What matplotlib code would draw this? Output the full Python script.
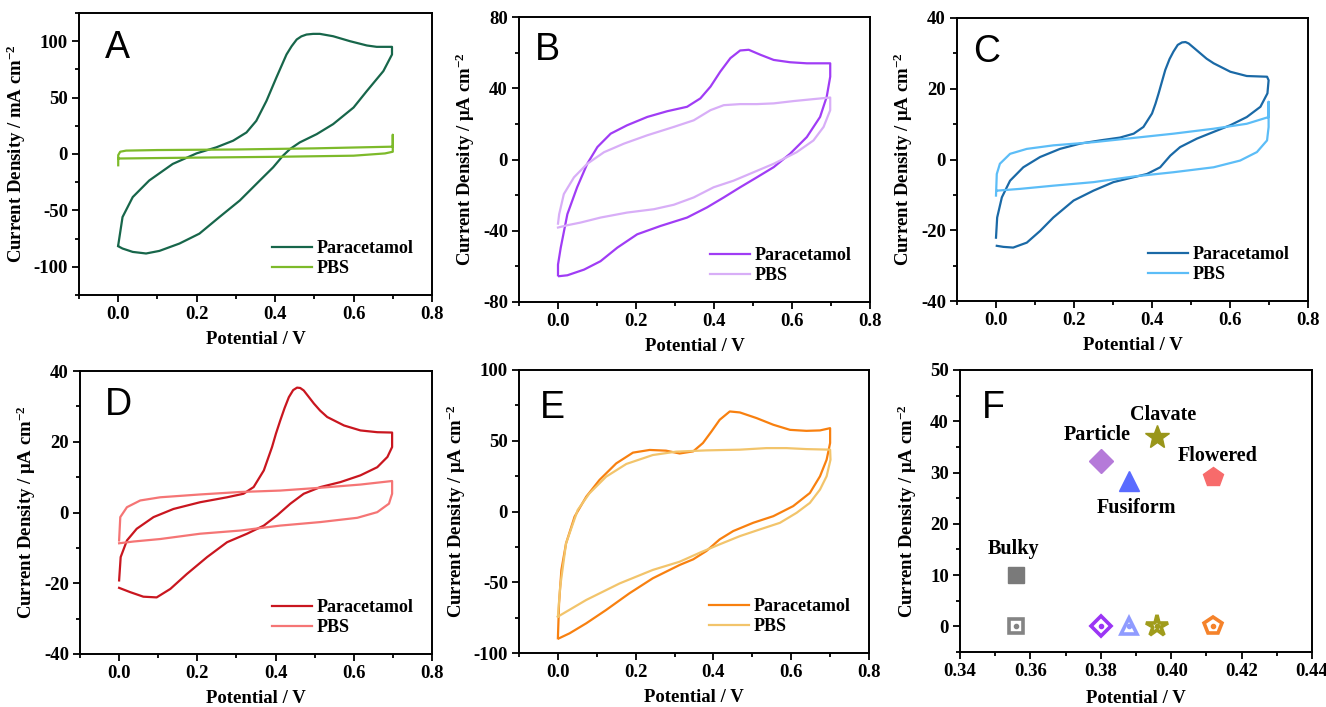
import matplotlib
matplotlib.use('Agg')
import matplotlib.pyplot as plt
from matplotlib.ticker import MultipleLocator

plt.rcParams['font.family'] = ['Liberation Serif', 'DejaVu Serif']
plt.rcParams['font.weight'] = 'bold'
plt.rcParams['axes.labelweight'] = 'bold'
plt.rcParams['axes.unicode_minus'] = False
plt.rcParams['mathtext.default'] = 'regular'

# ---- panel A (mA cm-2) ----
a_para_x = [0.000, 0.011, 0.037, 0.079, 0.139, 0.200, 0.250, 0.293, 0.327, 0.352, 0.378, 0.403,
            0.429, 0.442, 0.455, 0.467, 0.480, 0.497, 0.514, 0.548, 0.591, 0.634, 0.659, 0.698,
            0.698, 0.676, 0.634, 0.600, 0.548, 0.506, 0.463, 0.438, 0.420, 0.395, 0.361, 0.310,
            0.258, 0.207, 0.156, 0.105, 0.071, 0.037, 0.011, 0.000]
a_para_y = [-80.9, -55.9, -38.2, -23.5, -8.8, 0.6, 5.9, 11.8, 19.1, 29.4, 47.1, 67.6,
            88.2, 95.5, 101.5, 104.3, 105.9, 106.5, 106.5, 104.4, 100.0, 96.2, 95.0, 95.0,
            88.2, 73.5, 55.9, 41.2, 26.5, 17.6, 10.3, 4.4, -1.5, -11.8, -23.5, -41.2,
            -55.9, -70.6, -79.4, -85.9, -88.2, -86.8, -83.8, -81.8]
a_pbs_x = [0.0, 0.0, 0.005, 0.02, 0.1, 0.3, 0.5, 0.7, 0.7, 0.7, 0.68, 0.6, 0.4, 0.2, 0.0, 0.0]
a_pbs_y = [-10, -1, 2, 3, 3.5, 4, 5, 6.5, 17, 2, 0.5, -1.5, -2.5, -3.2, -4, -4]

# ---- panel B ----
b_para_x = [0.000, 0.000, 0.007, 0.024, 0.049, 0.075, 0.101, 0.135, 0.177, 0.229, 0.280, 0.331,
            0.365, 0.391, 0.416, 0.442, 0.467, 0.489, 0.519, 0.553, 0.595, 0.638, 0.698,
            0.698, 0.689, 0.672, 0.638, 0.595, 0.553, 0.510, 0.467, 0.425, 0.382, 0.331,
            0.263, 0.203, 0.152, 0.109, 0.067, 0.024, 0.003]
b_para_y = [-65.0, -59.0, -49.5, -30.7, -15.6, -2.4, 7.0, 14.5, 19.2, 23.9, 27.1, 29.6,
            34.3, 40.9, 49.3, 56.9, 61.2, 61.6, 58.8, 55.9, 54.6, 54.0, 54.0,
            46.5, 35.2, 23.9, 12.6, 3.2, -4.3, -10.0, -15.6, -21.3, -26.9, -32.6,
            -37.3, -42.0, -49.5, -57.1, -61.8, -65.0, -65.5]
b_pbs_x = [0.000, 0.003, 0.015, 0.041, 0.075, 0.118, 0.169, 0.229, 0.297, 0.348, 0.391, 0.425,
           0.467, 0.510, 0.553, 0.604, 0.655, 0.698,
           0.698, 0.681, 0.655, 0.612, 0.553, 0.501, 0.450, 0.399, 0.348, 0.297, 0.246,
           0.177, 0.109, 0.058, 0.024, 0.000]
b_pbs_y = [-36.0, -30.7, -19.4, -10.0, -2.4, 4.1, 8.9, 13.6, 18.3, 22.0, 27.7, 30.5,
           31.1, 31.1, 31.5, 32.8, 33.9, 34.8,
           27.7, 18.3, 10.7, 4.1, -2.4, -7.2, -11.9, -15.6, -21.3, -25.4, -27.9,
           -29.8, -32.6, -35.4, -36.9, -38.2]

# ---- panel C ----
c_para_x = [0.000, 0.003, 0.015, 0.036, 0.070, 0.113, 0.164, 0.216, 0.267, 0.318, 0.353, 0.378,
            0.400, 0.409, 0.417, 0.426, 0.434, 0.445, 0.455, 0.466, 0.477, 0.486, 0.494, 0.508,
            0.524, 0.540, 0.558, 0.601, 0.643, 0.695,
            0.699, 0.696, 0.678, 0.643, 0.601, 0.558, 0.515, 0.472, 0.447, 0.421, 0.387,
            0.353, 0.301, 0.250, 0.199, 0.147, 0.113, 0.079, 0.044, 0.019, 0.002]
c_para_y = [-22.1, -16.4, -10.7, -6.0, -2.2, 0.7, 3.0, 4.5, 5.4, 6.2, 7.3, 9.2,
            13.0, 15.8, 18.7, 22.2, 25.3, 28.4, 30.5, 32.4, 33.1, 33.2, 32.8, 31.5,
            30.0, 28.5, 27.2, 24.8, 23.6, 23.4,
            22.4, 18.7, 14.9, 12.0, 9.7, 7.8, 5.9, 3.5, 1.1, -2.2, -4.1,
            -5.0, -6.4, -8.8, -11.6, -16.4, -20.2, -23.5, -24.9, -24.7, -24.4]
c_pbs_x = [0.000, 0.002, 0.010, 0.036, 0.079, 0.147, 0.250, 0.353, 0.455, 0.558, 0.643, 0.699,
           0.699, 0.699, 0.695, 0.669, 0.626, 0.558, 0.455, 0.353, 0.250, 0.147, 0.062, 0.003]
c_pbs_y = [-10.2, -4.1, -1.2, 1.6, 3.0, 4.0, 4.9, 6.1, 7.3, 8.7, 10.1, 12.0,
           16.3, 9.2, 5.4, 2.1, -0.3, -2.2, -3.6, -4.8, -6.4, -7.4, -8.3, -8.8]

# ---- panel D ----
d_para_x = [0.000, 0.004, 0.020, 0.045, 0.088, 0.139, 0.207, 0.276, 0.318, 0.344, 0.370, 0.391,
            0.401, 0.412, 0.423, 0.434, 0.445, 0.455, 0.463, 0.472, 0.484, 0.498, 0.514, 0.532,
            0.575, 0.617, 0.660, 0.698,
            0.698, 0.686, 0.660, 0.617, 0.566, 0.515, 0.472, 0.438, 0.404, 0.370, 0.327,
            0.276, 0.225, 0.173, 0.131, 0.096, 0.062, 0.028, 0.000]
d_para_y = [-19.2, -12.6, -7.9, -4.6, -1.3, 1.0, 2.9, 4.3, 5.3, 7.2, 11.9, 18.5,
            22.3, 26.0, 29.5, 32.6, 34.6, 35.3, 35.2, 34.5, 32.8, 30.8, 28.8, 27.0,
            24.6, 23.2, 22.7, 22.6,
            18.5, 15.7, 12.8, 10.5, 8.6, 7.2, 5.3, 2.5, -0.8, -3.7, -6.0,
            -8.4, -12.6, -17.4, -21.6, -24.0, -23.8, -22.5, -21.3]
d_pbs_x = [0.000, 0.003, 0.020, 0.054, 0.105, 0.207, 0.310, 0.412, 0.515, 0.617, 0.698,
           0.698, 0.690, 0.660, 0.609, 0.515, 0.412, 0.310, 0.207, 0.105, 0.037, 0.000]
d_pbs_y = [-7.9, -1.3, 1.5, 3.4, 4.3, 5.1, 5.8, 6.2, 7.0, 7.9, 8.9,
           5.3, 2.5, 0.1, -1.5, -2.7, -3.7, -5.1, -6.0, -7.5, -8.2, -8.7]

# ---- panel E ----
e_para_x = [0.000, 0.003, 0.009, 0.021, 0.043, 0.073, 0.107, 0.150, 0.193, 0.236, 0.278,
            0.313, 0.348, 0.373, 0.395, 0.416, 0.442, 0.468, 0.511, 0.554, 0.597, 0.639, 0.674, 0.700,
            0.700, 0.691, 0.674, 0.648, 0.605, 0.554, 0.502, 0.451, 0.416, 0.382, 0.348,
            0.313, 0.244, 0.184, 0.124, 0.073, 0.030, 0.003]
e_para_y = [-89.6, -64.9, -41.3, -22.5, -3.6, 10.5, 22.3, 34.0, 41.6, 43.5, 43.0,
            41.0, 42.5, 48.4, 56.6, 64.8, 70.7, 70.0, 66.0, 61.3, 57.7, 57.0, 57.3, 58.9,
            48.4, 36.6, 24.9, 13.1, 3.8, -3.3, -8.0, -13.8, -19.7, -27.9, -33.8,
            -37.8, -47.2, -57.8, -69.6, -79.0, -86.1, -89.6]
e_pbs_x = [0.000, 0.006, 0.021, 0.051, 0.081, 0.124, 0.176, 0.244, 0.304, 0.382, 0.468,
           0.536, 0.588, 0.639, 0.700,
           0.701, 0.691, 0.674, 0.648, 0.614, 0.571, 0.519, 0.468, 0.416, 0.365, 0.313,
           0.244, 0.159, 0.073, 0.000]
e_pbs_y = [-74.3, -53.0, -22.5, 1.1, 12.8, 24.6, 33.6, 39.9, 42.3, 43.2, 43.7,
           44.8, 44.8, 44.1, 43.7,
           36.6, 24.9, 15.5, 6.1, -0.9, -8.0, -12.7, -17.4, -23.2, -29.1, -35.5,
           -41.3, -50.8, -62.5, -74.3]

# ---- panel F ----
f_names = ['Bulky', 'Particle', 'Fusiform', 'Clavate', 'Flowered']
f_potential = [0.356, 0.380, 0.388, 0.396, 0.412]
f_current = [10.0, 32.2, 28.3, 37.0, 29.1]
f_baseline = [0, 0, 0, 0, 0]
f_markers = ['s', 'D', '^', '*', 'p']
f_fill = ['#7a7a7a', '#b57ad9', '#5a6bff', '#99961a', '#f76b6b']
f_open = ['#848484', '#9b35f5', '#8f9bff', '#a09c1c', '#f5822a']
f_label_xy = [(0.3553, 15.0), (0.3790, 37.3), (0.3900, 23.0), (0.3977, 41.3), (0.4131, 33.3)]

cv_panels = [
    ('A', [79, 13, 432, 295], (-125, 125), 50, 25, 'mA',
     a_para_x, a_para_y, a_pbs_x, a_pbs_y, '#17664a', '#7dba2a', (0.108, 0.876)),
    ('B', [519, 17, 870, 302], (-80, 80), 40, 20, '\u03bcA',
     b_para_x, b_para_y, b_pbs_x, b_pbs_y, '#a03cf5', '#d8aef7', (0.08, 0.884)),
    ('C', [957, 18, 1308, 301], (-40, 40), 20, 10, '\u03bcA',
     c_para_x, c_para_y, c_pbs_x, c_pbs_y, '#1a69a6', '#5cbdf7', (0.085, 0.88)),
    ('D', [80, 371, 432, 654], (-40, 40), 20, 10, '\u03bcA',
     d_para_x, d_para_y, d_pbs_x, d_pbs_y, '#c9161f', '#f57575', (0.108, 0.88)),
    ('E', [519, 370, 869, 653], (-100, 100), 50, 25, '\u03bcA',
     e_para_x, e_para_y, e_pbs_x, e_pbs_y, '#f8800f', '#f2c46b', (0.094, 0.866)),
]

W, H = 1326, 707
fig = plt.figure(figsize=(W / 100, H / 100), dpi=100)


def make_axes(box):
    l, t, r, b = box
    return fig.add_axes([l / W, 1 - b / H, (r - l) / W, (b - t) / H])


def style(ax):
    for s in ax.spines.values():
        s.set_linewidth(1.4)
    ax.tick_params(which='both', direction='out', top=False, right=False, width=1.3,
                   labelsize=13.5, pad=3)
    ax.tick_params(which='major', length=5)
    ax.tick_params(which='minor', length=3)
    for lbl in ax.get_xticklabels() + ax.get_yticklabels():
        lbl.set_fontweight('bold')


for (letter, box, ylim, ymaj, ymin, unit, px, py, bx, by, c1, c2, lpos) in cv_panels:
    ax = make_axes(box)
    ax.plot(px, py, color=c1, lw=1.6, label='Paracetamol')
    ax.plot(bx, by, color=c2, lw=1.6, label='PBS')
    ax.set_xlim(-0.1, 0.8)
    ax.set_ylim(*ylim)
    ax.xaxis.set_major_locator(MultipleLocator(0.2))
    ax.xaxis.set_minor_locator(MultipleLocator(0.1))
    ax.yaxis.set_major_locator(MultipleLocator(ymaj))
    ax.yaxis.set_minor_locator(MultipleLocator(ymin))
    ax.xaxis.set_major_formatter(lambda v, p: f'{v:.1f}')
    ax.yaxis.set_major_formatter(lambda v, p: f'{v:.0f}')
    style(ax)
    ax.set_xlabel('Potential / V', fontsize=13.5, labelpad=6)
    ax.set_ylabel(f'Current Density / {unit} cm$^{{-2}}$', fontsize=13.5, labelpad=4)
    ax.legend(loc='lower right', frameon=False, fontsize=13, handlelength=2.2,
              handletextpad=0.3, labelspacing=0.15, borderaxespad=0.6)
    ax.text(lpos[0], lpos[1], letter, transform=ax.transAxes, ha='center', va='center',
            fontsize=27, family='Liberation Sans', fontweight='normal')

# panel F
ax = make_axes([960, 370, 1312, 652])
sizes = {'s': 12, 'D': 12, '^': 14, '*': 18, 'p': 15}
for x, y, m, cf in zip(f_potential, f_current, f_markers, f_fill):
    ax.plot(x, y, marker=m, ms=sizes[m], color=cf, mec=cf, ls='none')
for x, y, m, co in zip(f_potential, f_baseline, f_markers, f_open):
    ax.plot(x, y, marker=m, ms=sizes[m] - 2, mfc='white', mec=co, mew=2.6, ls='none')
    ax.plot(x, y, marker='o', ms=3, color=co, ls='none')
for name, (tx, ty) in zip(f_names, f_label_xy):
    ax.text(tx, ty, name, ha='center', va='center', fontsize=14.5, fontweight='bold')
ax.set_xlim(0.34, 0.44)
ax.set_ylim(-5, 50)
ax.xaxis.set_major_locator(MultipleLocator(0.02))
ax.xaxis.set_minor_locator(MultipleLocator(0.01))
ax.yaxis.set_major_locator(MultipleLocator(10))
ax.yaxis.set_minor_locator(MultipleLocator(5))
ax.xaxis.set_major_formatter(lambda v, p: f'{v:.2f}')
ax.yaxis.set_major_formatter(lambda v, p: f'{v:.0f}')
style(ax)
ax.set_xlabel('Potential / V', fontsize=13.5, labelpad=7)
ax.set_ylabel('Current Density / \u03bcA cm$^{-2}$', fontsize=13.5, labelpad=8)
ax.text(0.094, 0.865, 'F', transform=ax.transAxes, ha='center', va='center',
        fontsize=27, family='Liberation Sans', fontweight='normal')

fig.savefig('out.png', dpi=100)
